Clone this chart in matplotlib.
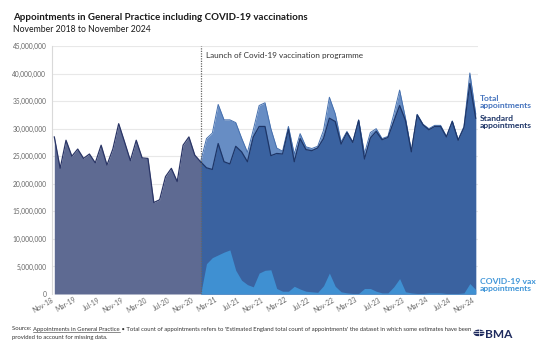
import matplotlib
matplotlib.use("Agg")
import matplotlib.pyplot as plt
import numpy as np
from matplotlib.patches import Circle
from matplotlib.ticker import FuncFormatter

# ---------------- data (millions of appointments) ----------------
tick_labels = ["Nov-18", "Mar-19", "Jul-19", "Nov-19", "Mar-20", "Jul-20", "Nov-20",
               "Mar-21", "Jul-21", "Nov-21", "Mar-22", "Jul-22", "Nov-22", "Mar-23",
               "Jul-23", "Nov-23", "Mar-24", "Jul-24", "Nov-24"]

# Nov-18 .. Dec-20 (before the vaccination programme)
pre_vax_standard = [28.5, 22.8, 27.9, 25.0, 26.3, 24.6, 25.4, 23.8, 27.0, 23.4,
                    26.3, 30.9, 27.6, 24.2, 27.9, 24.7, 24.6, 16.6, 17.1, 21.3,
                    22.8, 20.4, 27.0, 28.5, 25.2, 24.0]

# Dec-20 .. Nov-24
total_appts = [24.0, 28.2, 29.2, 34.4, 31.6, 31.6, 31.1, 28.3, 25.7, 29.8,
               34.2, 34.7, 30.0, 26.5, 25.9, 30.4, 25.4, 29.1, 26.7, 26.4,
               26.8, 29.7, 35.7, 32.7, 27.6, 29.5, 27.6, 31.6, 25.5, 29.3,
               30.0, 28.2, 28.6, 32.6, 37.0, 31.9, 26.0, 32.6, 30.8, 30.0,
               30.6, 30.6, 28.6, 31.4, 28.0, 30.4, 40.1, 32.7]
standard_appts = [24.0, 22.9, 22.6, 27.3, 24.0, 23.6, 26.8, 25.8, 24.0, 28.5,
                  30.4, 30.4, 25.1, 25.5, 25.4, 29.9, 24.0, 28.2, 26.2, 26.0,
                  26.5, 28.2, 31.9, 31.3, 27.2, 29.3, 27.5, 31.5, 24.5, 28.3,
                  29.5, 28.0, 28.4, 31.3, 34.2, 31.5, 25.8, 32.5, 30.7, 29.8,
                  30.4, 30.4, 28.5, 31.3, 27.9, 30.2, 38.2, 31.9]
vax_appts = [0.0, 5.5, 6.6, 7.1, 7.6, 8.0, 4.3, 2.5, 1.7, 1.3,
             3.8, 4.3, 4.4, 1.0, 0.5, 0.5, 1.4, 0.9, 0.5, 0.4,
             0.3, 1.5, 3.8, 1.4, 0.4, 0.2, 0.1, 0.1, 1.0, 1.0,
             0.5, 0.2, 0.2, 1.3, 2.8, 0.4, 0.2, 0.1, 0.1, 0.2,
             0.2, 0.2, 0.1, 0.1, 0.1, 0.2, 1.9, 0.8]

# ---------------- figure ----------------
W, H = 550, 345
fig = plt.figure(figsize=(W / 100, H / 100), dpi=100)
plt.rcParams['font.family'] = ['Lato', 'DejaVu Sans']

def fx(px):
    return px / W

def fy(py):
    return 1 - py / H

ax_l, ax_r, ax_t, ax_b = 52.3, 478, 46, 294
ax = fig.add_axes([fx(ax_l), fy(ax_b), fx(ax_r - ax_l), (ax_b - ax_t) / H])

M = 1e6
n_pre = len(pre_vax_standard)
x_pre = np.arange(n_pre)
x_post = np.arange(n_pre - 1, n_pre - 1 + len(total_appts))

purple = "#5E6A92"
purple_line = "#2A3566"
total_col = "#678DC4"
total_line = "#4670AE"
std_col = "#3A62A0"
std_line = "#1E3668"
vax_col = "#3F90D2"

pre = np.array(pre_vax_standard) * M
tot = np.array(total_appts) * M
std = np.array(standard_appts) * M
vax = np.array(vax_appts) * M

ax.fill_between(x_pre, pre, color=purple, lw=0, zorder=2)
ax.plot(x_pre, pre, color=purple_line, lw=0.9, zorder=3)
ax.fill_between(x_post, tot, color=total_col, lw=0, zorder=2)
ax.plot(x_post, tot, color=total_line, lw=0.7, zorder=3)
ax.fill_between(x_post, std, color=std_col, lw=0, zorder=4)
ax.plot(x_post, std, color=std_line, lw=0.9, zorder=5)
ax.fill_between(x_post, vax, color=vax_col, lw=0, zorder=6)

ax.axvline(n_pre - 1, color="#666666", ls=(0, (1, 1)), lw=0.9, zorder=7)

x_per_px = 72 / (475.7 - 54.3)
ax.set_xlim(-(54.3 - ax_l) * x_per_px, 72 + (ax_r - 475.7) * x_per_px)
ax.set_ylim(0, 45 * M)

ax.set_yticks(np.arange(0, 45 * M + 1, 5 * M))
ax.yaxis.set_major_formatter(FuncFormatter(lambda v, p: f"{v:,.0f}"))
ax.set_xticks(np.arange(0, 73, 4))
ax.set_xticklabels(tick_labels, rotation=30, ha="right", rotation_mode="default")
ax.tick_params(axis="both", length=0, colors="#666666")
ax.tick_params(axis="y", labelsize=4.8, pad=4.3)
ax.tick_params(axis="x", labelsize=4.9, pad=1.5)
ax.yaxis.grid(True, color="#E8E8E8", lw=0.8)
ax.set_axisbelow(True)
for s in ["top", "right", "bottom"]:
    ax.spines[s].set_visible(False)
ax.spines["left"].set_color("#D9D9D9")
ax.spines["left"].set_linewidth(0.8)

# ---------------- texts ----------------
fig.text(fx(13), fy(20.5), "Appointments in General Practice including COVID-19 vaccinations",
         fontsize=7.05, fontweight="bold", color="#1A1A1A", va="baseline")
fig.text(fx(13), fy(32), "November 2018 to November 2024",
         fontsize=6.2, color="#1A1A1A", va="baseline")
fig.text(fx(205.5), fy(58), "Launch of Covid-19 vaccination programme",
         fontsize=5.85, color="#333333", va="baseline")

lab_x = fx(479.5)
fig.text(lab_x, fy(108.3), "Total\nappointments", fontsize=6.1, fontweight="bold",
         color="#4674BE", va="baseline", linespacing=1.0)
fig.text(lab_x, fy(128.3), "Standard\nappointments", fontsize=6.1, fontweight="bold",
         color="#1F3668", va="baseline", linespacing=1.0)
fig.text(lab_x, fy(290.7), "COVID-19 vax\nappointments", fontsize=6.1, fontweight="bold",
         color="#3F95D8", va="baseline", linespacing=1.0)

# footer
fig.canvas.draw()
r = fig.canvas.get_renderer()
fs_foot = 4.2
foot_col = "#333333"
x0 = fx(12.5)
yb = fy(330.5)
t1 = fig.text(x0, yb, "Source: ", fontsize=fs_foot, color=foot_col, va="baseline")
w1 = t1.get_window_extent(r).width
t2 = fig.text(x0 + w1 / W, yb, "Appointments in General Practice", fontsize=fs_foot,
              color=foot_col, va="baseline")
bb2 = t2.get_window_extent(r)
fig.add_artist(plt.Line2D([bb2.x0 / W, bb2.x1 / W], [yb - 1.0 / H, yb - 1.0 / H],
                          color=foot_col, lw=0.4))
fig.text(bb2.x1 / W, yb,
         " \u2022 Total count of appointments refers to 'Estimated England total count of appointments' "
         "the dataset in which some estimates have been",
         fontsize=fs_foot, color=foot_col, va="baseline")
fig.text(x0, fy(339), "provided to account for missing data.", fontsize=fs_foot,
         color=foot_col, va="baseline")

# BMA logo
navy = "#1F2B5E"
gx, gy, gr = 479, 333, 5.5
fig.add_artist(Circle((fx(gx), fy(gy)), gr / W, transform=fig.transFigure,
                      facecolor=navy, edgecolor="none"))
for dy in (-2.5, 0, 2.5):
    half = np.sqrt(max(gr**2 - dy**2, 0)) * 0.95
    fig.add_artist(plt.Line2D([fx(gx - half), fx(gx + half)], [fy(gy + dy), fy(gy + dy)],
                              color="white", lw=0.5))
fig.add_artist(plt.Line2D([fx(gx), fx(gx)], [fy(gy - gr), fy(gy + gr)], color="white", lw=0.5))
fig.text(fx(485.5), fy(337.5), "BMA", fontsize=8.6, fontweight="bold", color=navy,
         va="baseline")

fig.savefig("out.png", dpi=100)
